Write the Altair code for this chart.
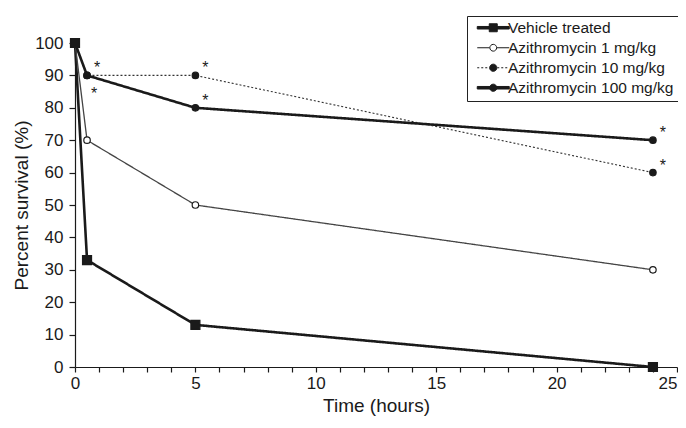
import altair as alt
import pandas as pd

# ---- data ----
series_names = ["Vehicle treated", "Azithromycin 1 mg/kg",
                "Azithromycin 10 mg/kg", "Azithromycin 100 mg/kg"]
times = [0, 0.5, 5, 24]
vehicle = [100, 33, 13, 0]
azi_1 = [100, 70, 50, 30]
azi_10 = [100, 90, 90, 60]
azi_100 = [100, 90, 80, 70]

# significance asterisks (time, value) placed above-right / below-right of points
star_up_t = [0.5, 5, 5, 24, 24]
star_up_v = [90, 90, 80, 70, 60]
star_down_t = [0.5]
star_down_v = [90]

x_ticks = list(range(0, 26))
y_ticks = list(range(0, 101, 10))

rows = []
for name, vals in zip(series_names, [vehicle, azi_1, azi_10, azi_100]):
    for t, v in zip(times, vals):
        rows.append({"series": name, "time": t, "value": v})
df = pd.DataFrame(rows)
stars_up = pd.DataFrame({"time": star_up_t, "value": star_up_v, "s": ["*"] * len(star_up_t)})
stars_down = pd.DataFrame({"time": star_down_t, "value": star_down_v, "s": ["*"] * len(star_down_t)})
legend_df = pd.DataFrame({"series": series_names, "time": [-10] * 4, "value": [50] * 4})

FONT = "Liberation Sans"
INK = "#1a1a1a"

xscale = alt.Scale(domain=[0, 25], nice=False, zero=False)
yscale = alt.Scale(domain=[0, 100], nice=False)

x_enc = alt.X("time:Q", scale=xscale,
              axis=alt.Axis(title="Time (hours)", values=x_ticks,
                            labelExpr="datum.value % 5 == 0 ? datum.label : ''",
                            labelAlign={"condition": {"test": "datum.value >= 25", "value": "right"},
                                        "value": "center"},
                            labelOverlap=False, labelFlush=False, tickSize=5,
                            labelPadding=3, titlePadding=5))
y_enc = alt.Y("value:Q", scale=yscale,
              axis=alt.Axis(title="Percent survival (%)", values=y_ticks,
                            labelOverlap=False, labelFlush=False, tickSize=6,
                            labelPadding=6, titlePadding=3))

base = alt.Chart(df)

lines = base.mark_line().encode(
    x=x_enc, y=y_enc,
    strokeDash=alt.StrokeDash("series:N", scale=alt.Scale(type="ordinal", domain=series_names,
                              range=[[1, 0], [1, 0], [2, 2], [1, 0]]), legend=None),
    strokeWidth=alt.StrokeWidth("series:N", scale=alt.Scale(type="ordinal", domain=series_names,
                                range=[2.6, 1.3, 1.1, 2.6]), legend=None),
    color=alt.Color("series:N", scale=alt.Scale(domain=series_names,
                    range=[INK, "#444444", "#333333", INK]), legend=None),
)

points = base.mark_point(filled=True, strokeWidth=1.2, stroke=INK, opacity=1).encode(
    x=x_enc, y=y_enc,
    shape=alt.Shape("series:N", scale=alt.Scale(domain=series_names,
                    range=["square", "circle", "circle", "circle"]), legend=None),
    fill=alt.Fill("series:N", scale=alt.Scale(domain=series_names,
                  range=[INK, "white", INK, INK]), legend=None),
    size=alt.Size("series:N", scale=alt.Scale(type="ordinal", domain=series_names,
                  range=[81, 42, 42, 42]), legend=None),
    order=alt.Order("order:Q"),
).transform_calculate(order="indexof(['Azithromycin 1 mg/kg','Azithromycin 10 mg/kg','Azithromycin 100 mg/kg','Vehicle treated'], datum.series)")

stars_a = alt.Chart(stars_up).mark_text(font=FONT, fontSize=16, color=INK, dx=10, dy=-7,
                                        baseline="middle").encode(x=x_enc, y=y_enc, text="s:N")
stars_b = alt.Chart(stars_down).mark_text(font=FONT, fontSize=16, color=INK, dx=7, dy=19,
                                          baseline="middle").encode(x=x_enc, y=y_enc, text="s:N")

# legend symbols: line + marker drawn as custom symbol paths (unit = 4 px)
def circle(r):
    return f"M{-r},0A{r},{r} 0 1,1 {r},0A{r},{r} 0 1,1 {-r},0Z"

dots = ""
p = -4.0
while p < -1.0:
    dots += f"M{p:.2f},0H{min(p + 0.5, -0.9):.2f}"
    p += 1.0
p = 1.0
while p < 4.0:
    dots += f"M{p:.2f},0H{min(p + 0.5, 4.0):.2f}"
    p += 1.0
paths = [
    "M-4,-0.32H4V0.32H-4Z M-1,-1H1V1H-1Z",
    "M-4,0H-0.9 M0.9,0H4 " + circle(0.85),
    dots + " " + circle(0.9),
    "M-4,-0.32H4V0.32H-4Z " + circle(0.9),
]

leg = alt.Legend(title=None, orient="none", legendX=392, legendY=-27,
                 symbolSize=64, symbolOffset=14.5, labelOffset=7,
                 symbolStrokeWidth=1, symbolOpacity=1,
                 labelFont=FONT, labelFontSize=15.5, labelColor=INK,
                 rowPadding=3, padding=4, strokeColor="#222222",
                 fillColor="white", labelLimit=300)

legend_layer = alt.Chart(legend_df).mark_point(filled=True, clip=True, opacity=1,
                                               strokeWidth=1).encode(
    x=x_enc, y=y_enc,
    shape=alt.Shape("series:N", scale=alt.Scale(domain=series_names, range=paths), legend=leg),
    fill=alt.Fill("series:N", scale=alt.Scale(domain=series_names,
                  range=[INK, "white", INK, INK]), legend=leg),
    stroke=alt.Stroke("series:N", scale=alt.Scale(domain=series_names,
                      range=[INK, INK, INK, INK]), legend=leg),
)

chart = alt.layer(lines, points, stars_a, stars_b, legend_layer).resolve_scale(
    shape="independent", fill="independent", stroke="independent"
).properties(
    width=602, height=324,
    autosize=alt.AutoSizeParams(type="none"),
    padding={"left": 67, "top": 35, "right": 1, "bottom": 50},
).configure_view(stroke=None).configure_axis(
    grid=False, domainColor=INK, tickColor=INK, domainWidth=1.2, tickWidth=1.2,
    labelFont=FONT, titleFont=FONT, labelFontSize=17, titleFontSize=19,
    labelColor=INK, titleColor=INK, titleFontWeight="normal",
)

chart.save("out.html", embed_options={"renderer": "svg", "actions": False})
